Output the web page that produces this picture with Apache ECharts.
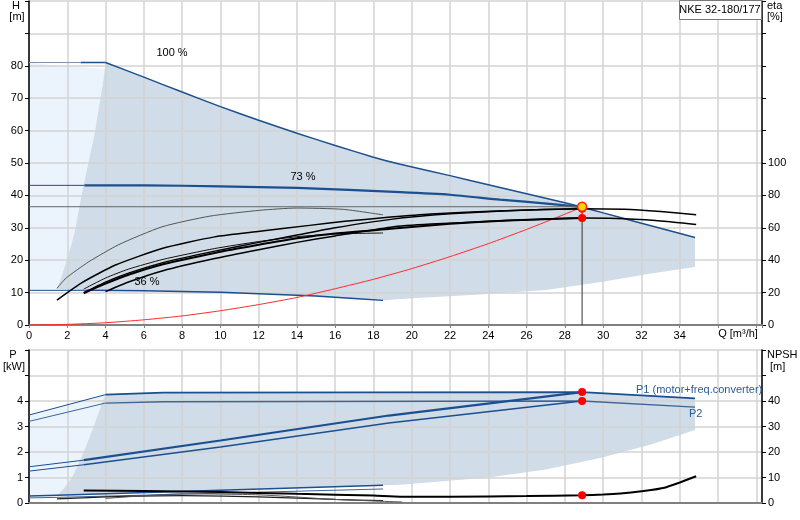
<!DOCTYPE html>
<html><head><meta charset="utf-8">
<script src="https://cdn.jsdelivr.net/npm/echarts@6/dist/echarts.min.js"></script>
<style>html,body{margin:0;padding:0;background:#fff}#c{width:800px;height:520px}</style>
</head><body><div id="c"></div>
<script>
// ---------- data ----------
// head curves H [m] vs Q [m3/h]
const h100Q = [0, 2.7, 4, 6, 8, 10, 12, 14, 16, 18, 19.4, 22, 24, 26, 28, 28.9, 30, 32, 34.8];
const h100H = [81, 81, 81, 76.5, 71.9, 67.4, 63.2, 59.2, 55.4, 51.8, 49.6, 46.1, 43.3, 40.5, 37.7, 36.4, 34.6, 31.4, 27];
const h73Q = [0, 2.9, 6, 10, 14, 19.4, 22, 24.6, 27.2, 28.9];
const h73H = [43.1, 43.1, 43.1, 42.8, 42.3, 41.0, 40.2, 38.7, 37.4, 36.4];
const h36Q = [0, 3, 6, 10, 14, 16, 18.5];
const h36H = [10.7, 10.7, 10.6, 10.1, 9.2, 8.6, 7.6];
const minFlowQ = [1.46, 1.7, 1.94, 2.2, 2.42, 2.74, 3.1, 3.43, 3.7, 3.9, 4];
const minFlowH = [11, 15, 19.5, 24.5, 29.7, 40, 50, 59, 69, 76, 81];
const rangeBottomQ = [34.8, 32.5, 29.9, 27, 24, 19.4, 18.5];
const rangeBottomH = [17.9, 15.9, 13.3, 10.8, 9.6, 8.0, 7.6];
const lightTopQ = [0, 4];
const lightTopH = [80.8, 79];
const systemQ = [0, 2, 4, 6, 8, 10, 12, 14, 16, 18, 20, 22, 24, 26, 28, 28.9];
const systemH = [0, 0.2, 0.7, 1.6, 2.8, 4.4, 6.3, 8.5, 11.2, 14.1, 17.4, 21.1, 25.1, 29.5, 34.2, 36.4];
const dutyQ = 28.9, dutyH = 36.5;
// efficiency curves eta [%]
const etaAQ = [1.46, 1.94, 3.12, 4.69, 6.95, 9.45, 12.06, 13.98, 16.41, 18.5];
const etaA  = [22.6, 29, 39, 49.6, 60.6, 67.2, 70.8, 72.2, 71.4, 68];
const etaUQ = [1.46, 2.77, 4.52, 6.95, 9.7, 12.06, 14.67, 16.5, 18.9, 21, 24.1, 26.5, 28.9, 31.1, 33, 34.86];
const etaU  = [15.4, 26.2, 37, 47.2, 54.4, 57.8, 61.5, 64, 66.6, 68.5, 70.2, 71.2, 71.8, 71.4, 70, 68.1];
const etaEQ = [2.86, 4, 5.2, 7, 9.7, 12, 14, 16, 18.5];
const etaE  = [22.2, 29, 34.5, 40.5, 47.2, 51.5, 54.5, 56.2, 56.8];
const etaU2Q = [2.86, 4, 5.2, 7, 9.7, 12, 14, 16, 18.9, 22, 25, 28.9];
const etaU2  = [20, 26.5, 32, 38.5, 45.6, 51, 55.5, 60, 65.2, 68.6, 70.6, 71.8];
const etaL2Q = [2.86, 4, 5.2, 7, 9.7, 12, 14, 16, 18.9, 22, 25, 28.9];
const etaL2  = [19.6, 25.5, 31, 37.5, 44.5, 49.5, 53.5, 56.5, 59.4, 62.5, 64.5, 66];
const etaLQ = [4, 5.2, 7, 9.7, 12, 14, 16, 18.9, 21, 24.1, 26.5, 28.9, 31.9, 33.5, 34.86];
const etaL  = [20.6, 26.5, 33.5, 41, 46.5, 51, 55, 60.4, 62.3, 64, 65.2, 66, 65.2, 63.8, 62];
const dutyEta = [71.8, 66];
// power curves P [kW]
const p1_100Q = [0, 4, 7, 28.9, 34.8];
const p1_100  = [3.45, 4.25, 4.33, 4.35, 4.1];
const p2_100Q = [0, 4, 7, 28.9, 34.8];
const p2_100  = [3.2, 3.92, 3.97, 4.0, 3.76];
const p1_73Q = [0, 2.86, 10, 18.8, 28.9];
const p1_73  = [1.42, 1.68, 2.45, 3.43, 4.35];
const p2_73Q = [0, 2.86, 10, 18.8, 28.9];
const p2_73  = [1.25, 1.5, 2.2, 3.14, 4.0];
const p1_36Q = [0, 1.46, 18.5];
const p1_36  = [0.27, 0.3, 0.70];
const p2_36Q = [0, 1.46, 18.5];
const p2_36  = [0.2, 0.22, 0.55];
const pMinFlowQ = [1.46, 1.8, 2.25, 2.86, 3.38, 3.85, 4];
const pMinFlow  = [0.3, 0.55, 1, 2, 3, 4, 4.25];
const pBottomQ = [34.8, 32.5, 29.9, 27, 24, 19.4];
const pBottom  = [2.86, 2.29, 1.77, 1.31, 1.0, 0.72];
const dutyP = [4.35, 4.0];
// NPSH [m]
const npshAQ = [2.86, 6, 10, 14, 18, 19.4, 22, 26, 28.9, 30, 30.9, 32, 33.2, 34.86];
const npshA  = [4.9, 4.7, 4.3, 3.6, 2.9, 2.5, 2.5, 2.7, 3.05, 3.3, 3.7, 4.6, 6, 10.5];
const npshBQ = [1.46, 4, 8, 12, 16, 18.5];
const npshB  = [1.6, 2.4, 2.9, 2.4, 1.4, 0.9];
const npshCQ = [4, 8, 12, 16, 19.5];
const npshC  = [1.8, 3.6, 3.2, 1.4, 0.4];
const dutyNPSH = 3.05;

// ---------- helpers ----------
const zip = (q, v) => q.map((x, i) => [x, v[i]]);
const FONT = "'Liberation Sans', Arial, sans-serif";
const BLUE = '#1b4f8f';
function line(xi, yi, pts, color, width, smooth, z) {
  return { type: 'line', xAxisIndex: xi, yAxisIndex: yi, data: pts, showSymbol: false, symbol: 'none',
    smooth: smooth ? 0.2 : false, lineStyle: { color: color, width: width },
    silent: true, z: z || 3 };
}
function poly(xi, yi, pts, color) {
  return { type: 'custom', xAxisIndex: xi, yAxisIndex: yi, z: -1, silent: true, data: [pts[0]],
    renderItem: function (params, api) {
      return { type: 'polygon', shape: { points: pts.map(p => api.coord(p)) }, style: { fill: color } };
    } };
}
function dot(xi, yi, pts, color, size, border) {
  return { type: 'scatter', xAxisIndex: xi, yAxisIndex: yi, data: pts, symbolSize: size, silent: true, z: 10,
    itemStyle: { color: color, borderColor: border || color, borderWidth: border ? 1.5 : 0, opacity: 1 } };
}

// polygons built from the curve arrays
const h100 = zip(h100Q, h100H), h73 = zip(h73Q, h73H), h36 = zip(h36Q, h36H), mf = zip(minFlowQ, minFlowH);
const topRange = h100.filter(p => p[0] >= 4)
  .concat(zip(rangeBottomQ, rangeBottomH))
  .concat(h36.slice().reverse().filter(p => p[0] >= 3 && p[0] < 18.5))
  .concat(mf.slice(0, -1));
const topLight = zip(lightTopQ, lightTopH).concat(mf.slice().reverse().slice(1)).concat([[0, h36H[0]]]);
const P1_100 = zip(p1_100Q, p1_100), pmf = zip(pMinFlowQ, pMinFlow), P1_36 = zip(p1_36Q, p1_36);
const botRange = P1_100.filter(p => p[0] >= 4)
  .concat(zip(pBottomQ, pBottom))
  .concat(P1_36.slice().reverse().filter(p => p[0] > 1.46))
  .concat(pmf.slice(0, -1));
const botLight = P1_100.slice(0, 2).concat(pmf.slice().reverse().slice(1)).concat([[0, p1_36[0]]]);

// ---------- axes ----------
const axLabel = { color: '#000', fontSize: 11, fontFamily: FONT };
const gridLine = { show: true, lineStyle: { color: '#d3d3d3', width: 1.5 } };
function xAx(gi, labels) {
  return { type: 'value', gridIndex: gi, min: 0, max: 38.3, interval: 2,
    axisLine: { show: true, onZero: false, lineStyle: { color: '#808080', width: 2 } },
    axisTick: { show: labels, length: 3, lineStyle: { color: '#808080' } },
    axisLabel: Object.assign({ show: labels, margin: 5, formatter: v => (v <= 34 ? String(v) : '') }, axLabel),
    splitLine: gridLine };
}
function yAx(gi, pos, max, interval, labelMax, split) {
  return { type: 'value', gridIndex: gi, position: pos, min: 0, max: max, interval: interval,
    axisLine: { show: true, lineStyle: { color: '#000', width: 1.5 } },
    axisTick: { show: true, length: 4, lineStyle: { color: '#000' } },
    axisLabel: Object.assign({ margin: 6, formatter: v => (v <= labelMax ? String(v) : '') }, axLabel),
    splitLine: split ? gridLine : { show: false } };
}

const txt = (x, y, s, align, color) => ({ type: 'text', x: x, y: y, silent: true, z: 20,
  style: { text: s, fill: color || '#000', font: '11px ' + FONT, textAlign: align || 'center', textVerticalAlign: 'middle' } });

const option = {
  animation: false,
  backgroundColor: '#fff',
  grid: [
    { left: 29, right: 38, top: 1, height: 324 },
    { left: 29, right: 38, top: 350, height: 153 }
  ],
  xAxis: [xAx(0, true), xAx(1, false)],
  yAxis: [
    yAx(0, 'left', 100, 10, 80, true),
    yAx(0, 'right', 200, 20, 100, false),
    yAx(1, 'left', 6, 1, 4, true),
    yAx(1, 'right', 60, 10, 40, false)
  ],
  series: [
    // top chart
    poly(0, 0, topLight, '#ebf4fd'),
    poly(0, 0, topRange, '#d0dce7'),
    line(0, 0, h100.slice(0, 2), '#7a8fa8', 1, false),
    line(0, 0, h100.slice(1, 3), BLUE, 1.5, false),
    line(0, 0, h100.slice(2), BLUE, 1.5, true),
    line(0, 0, h73.slice(0, 2), BLUE, 1, false),
    line(0, 0, h73.slice(1), BLUE, 2.2, true),
    line(0, 0, h36.slice(0, 2), BLUE, 1, false),
    line(0, 0, h36.slice(1), BLUE, 1.5, true),
    line(0, 0, [[0, dutyH], [dutyQ, dutyH]], '#666', 1, false),
    line(0, 0, [[dutyQ, 0], [dutyQ, dutyH]], '#333', 1, false),
    line(0, 0, zip(systemQ, systemH), '#ff2a2a', 1, true),
    line(0, 1, zip(etaAQ, etaA), '#555', 1, true),
    line(0, 1, zip(etaUQ, etaU), '#000', 1.5, true),
    line(0, 1, zip(etaEQ, etaE), '#111', 1, true),
    line(0, 1, zip(etaU2Q, etaU2), '#000', 1.5, true),
    line(0, 1, zip(etaL2Q, etaL2), '#000', 2, true),
    line(0, 1, zip(etaLQ, etaL), '#000', 1.5, true),
    dot(0, 1, dutyEta.map(e => [dutyQ, e]), '#ff0000', 8),
    dot(0, 0, [[dutyQ, dutyH]], '#ffd400', 9, '#ff2000'),
    // bottom chart
    poly(1, 2, botLight, '#ebf4fd'),
    poly(1, 2, botRange, '#d0dce7'),
    line(1, 2, P1_100.slice(0, 2), BLUE, 1, false),
    line(1, 2, P1_100.slice(1), BLUE, 1.8, false),
    line(1, 2, zip(p2_100Q, p2_100).slice(0, 2), '#3d6596', 1, false),
    line(1, 2, zip(p2_100Q, p2_100).slice(1), '#3d6596', 1.3, false),
    line(1, 2, zip(p1_73Q, p1_73).slice(0, 2), BLUE, 1, false),
    line(1, 2, zip(p1_73Q, p1_73).slice(1), BLUE, 2.2, false),
    line(1, 2, zip(p2_73Q, p2_73).slice(0, 2), BLUE, 1, false),
    line(1, 2, zip(p2_73Q, p2_73).slice(1), BLUE, 1.5, false),
    line(1, 2, P1_36, BLUE, 1.5, false),
    line(1, 2, zip(p2_36Q, p2_36), '#3d6596', 1, false),
    line(1, 3, zip(npshBQ, npshB), '#222', 1.2, true),
    line(1, 3, zip(npshCQ, npshC), '#555', 1, true),
    line(1, 3, zip(npshAQ, npshA), '#000', 2, true),
    dot(1, 2, dutyP.map(p => [dutyQ, p]), '#ff0000', 8),
    dot(1, 3, [[dutyQ, dutyNPSH]], '#ff0000', 8)
  ],
  graphic: [
    { type: 'rect', shape: { x: 679.5, y: 0.5, width: 82, height: 19 }, z: 19, silent: true,
      style: { fill: '#fff', stroke: '#777', lineWidth: 1 } },
    txt(720, 10, 'NKE 32-180/177'),
    txt(16, 6, 'H'), txt(17, 17, '[m]'),
    txt(767, 6, 'eta', 'left'), txt(767, 17, '[%]', 'left'),
    txt(738, 334, 'Q [m³/h]'),
    txt(13, 355, 'P'), txt(14, 367, '[kW]'),
    txt(767, 355, 'NPSH', 'left'), txt(770, 367, '[m]', 'left'),
    txt(172, 53, '100 %'), txt(303, 177, '73 %'), txt(147, 282, '36 %'),
    txt(636, 390, 'P1 (motor+freq.converter)', 'left', '#2b5a9a'),
    txt(689, 414, 'P2', 'left', '#2b5a9a')
  ]
};
const chart = echarts.init(document.getElementById('c'), null, { renderer: 'canvas' });
chart.setOption(option);
</script></body></html>
